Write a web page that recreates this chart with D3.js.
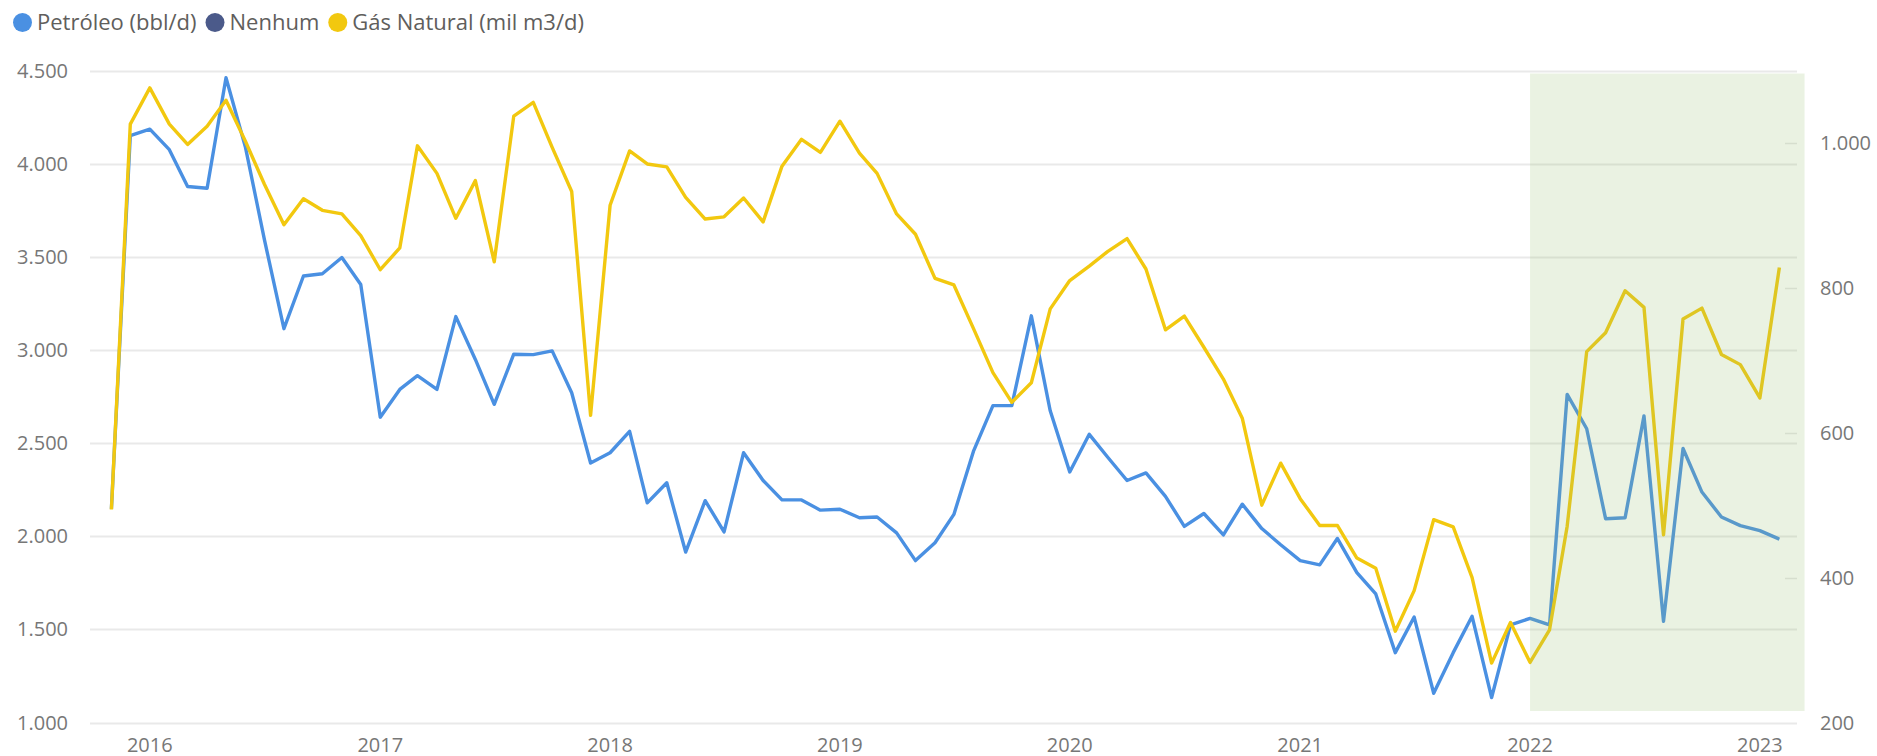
<!DOCTYPE html>
<html>
<head>
<meta charset="utf-8">
<script src="https://cdn.jsdelivr.net/npm/d3@7"></script>
<style>
  body { margin: 0; background: #fff; }
  svg { display: block; font-family: "Segoe UI", "Open Sans", sans-serif; }
</style>
</head>
<body>
<svg id="chart" width="1877" height="756"></svg>
<script>
// monthly series, Nov 2015 .. Feb 2023
const months = [
  '2015-11', '2015-12',
  '2016-01', '2016-02', '2016-03', '2016-04', '2016-05', '2016-06', '2016-07', '2016-08', '2016-09', '2016-10', '2016-11', '2016-12',
  '2017-01', '2017-02', '2017-03', '2017-04', '2017-05', '2017-06', '2017-07', '2017-08', '2017-09', '2017-10', '2017-11', '2017-12',
  '2018-01', '2018-02', '2018-03', '2018-04', '2018-05', '2018-06', '2018-07', '2018-08', '2018-09', '2018-10', '2018-11', '2018-12',
  '2019-01', '2019-02', '2019-03', '2019-04', '2019-05', '2019-06', '2019-07', '2019-08', '2019-09', '2019-10', '2019-11', '2019-12',
  '2020-01', '2020-02', '2020-03', '2020-04', '2020-05', '2020-06', '2020-07', '2020-08', '2020-09', '2020-10', '2020-11', '2020-12',
  '2021-01', '2021-02', '2021-03', '2021-04', '2021-05', '2021-06', '2021-07', '2021-08', '2021-09', '2021-10', '2021-11', '2021-12',
  '2022-01', '2022-02', '2022-03', '2022-04', '2022-05', '2022-06', '2022-07', '2022-08', '2022-09', '2022-10', '2022-11', '2022-12',
  '2023-01', '2023-02'
];

// Petróleo (bbl/d) - left axis
const petroleo = [
  2147, 4151,
  4185, 4075, 3877, 3868, 4461, 4086, 3592, 3114, 3397, 3409, 3496, 3351,
  2639, 2788, 2862, 2788, 3179, 2949, 2708, 2977, 2975, 2995, 2770, 2393,
  2448, 2563, 2179, 2287, 1915, 2191, 2023, 2448, 2299, 2195, 2195, 2140,
  2145, 2099, 2103, 2018, 1869, 1965, 2117, 2455, 2701, 2701, 3183, 2673,
  2345, 2547, 2425, 2299, 2340, 2214, 2053, 2122, 2007, 2172, 2041, 1954,
  1869, 1846, 1988, 1805, 1690, 1375, 1566, 1157, 1375, 1570, 1134, 1524,
  1559, 1524, 2761, 2577, 2094, 2099, 2646, 1543, 2471, 2237, 2103, 2057,
  2030, 1984
];

// Gás Natural (mil m3/d) - right axis
const gas = [
  494, 1026,
  1076, 1026, 998, 1023, 1059, 1002, 943, 887, 923, 907, 902, 872,
  825, 855, 996, 958, 896, 948, 836, 1037, 1056, 994, 933, 624,
  914, 989, 971, 967, 925, 895, 898, 924, 891, 968, 1005, 987,
  1030, 986, 958, 902, 874, 813, 804, 744, 683, 642, 669, 771,
  810, 830, 850, 868, 826, 742, 761, 718, 674, 620, 500, 558,
  509, 472, 472, 427, 413, 326, 382, 480, 470, 400, 282, 338,
  283, 328, 471, 712, 738, 796, 773, 459, 757, 772, 708, 694,
  648, 828
];

const leftTicks = [1000, 1500, 2000, 2500, 3000, 3500, 4000, 4500];
const rightTicks = [200, 400, 600, 800, 1000];
const yearTicks = ['2016', '2017', '2018', '2019', '2020', '2021', '2022', '2023'];

const legendItems = [
  { name: 'Petróleo (bbl/d)', color: '#4a90e2' },
  { name: 'Nenhum', color: '#4b5a8a' },
  { name: 'Gás Natural (mil m3/d)', color: '#f2c80f' }
];

// highlighted period
const highlightStart = '2022-01-01';
const highlightEnd = '2023-03-13';

const width = 1877, height = 756;
const plotLeft = 90, plotRight = 1797, plotTop = 70.5, plotBottom = 722.5;

const svg = d3.select('#chart');
const fmt = d3.formatLocale({ decimal: ',', thousands: '.', grouping: [3], currency: ['R$', ''] }).format(',d');
const parseMonth = d3.utcParse('%Y-%m');
const parseDay = d3.utcParse('%Y-%m-%d');
const dates = months.map(parseMonth);

const x = d3.scaleUtc()
  .domain([Date.UTC(2015, 8, 28), Date.UTC(2023, 2, 1)])
  .range([plotLeft, plotRight]);
const yL = d3.scaleLinear().domain([1000, 4500]).range([plotBottom, plotTop]);
const yR = d3.scaleLinear().domain([200, 1100]).range([plotBottom, plotTop]);

// gridlines
svg.append('g')
  .selectAll('line')
  .data(leftTicks)
  .join('line')
  .attr('x1', plotLeft)
  .attr('x2', plotRight)
  .attr('y1', d => Math.round(yL(d)) + 0.5)
  .attr('y2', d => Math.round(yL(d)) + 0.5)
  .attr('stroke', '#e9e9e9')
  .attr('stroke-width', 2);

// short marks for the secondary axis
svg.append('g')
  .selectAll('line')
  .data(rightTicks.slice(1))
  .join('line')
  .attr('x1', plotRight - 12)
  .attr('x2', plotRight)
  .attr('y1', d => Math.round(yR(d)) + 0.5)
  .attr('y2', d => Math.round(yR(d)) + 0.5)
  .attr('stroke', '#e6e6e6')
  .attr('stroke-width', 1.5);

// axis labels
const tickColor = '#777';
svg.append('g')
  .selectAll('text')
  .data(leftTicks)
  .join('text')
  .attr('x', 68)
  .attr('y', d => yL(d))
  .attr('dy', '0.35em')
  .attr('text-anchor', 'end')
  .attr('font-size', 20)
  .attr('fill', tickColor)
  .text(d => fmt(d));

svg.append('g')
  .selectAll('text')
  .data(rightTicks)
  .join('text')
  .attr('x', 1820)
  .attr('y', d => yR(d))
  .attr('dy', '0.35em')
  .attr('text-anchor', 'start')
  .attr('font-size', 20)
  .attr('fill', tickColor)
  .text(d => fmt(d));

svg.append('g')
  .selectAll('text')
  .data(yearTicks)
  .join('text')
  .attr('x', d => x(parseDay(d + '-01-01')))
  .attr('y', 744.5)
  .attr('dy', '0.35em')
  .attr('text-anchor', 'middle')
  .attr('font-size', 20)
  .attr('fill', tickColor)
  .text(d => d);

// lines
const lineL = d3.line().x((d, i) => x(dates[i])).y(d => yL(d));
const lineR = d3.line().x((d, i) => x(dates[i])).y(d => yR(d));

svg.append('path')
  .datum(petroleo)
  .attr('d', lineL)
  .attr('fill', 'none')
  .attr('stroke', legendItems[0].color)
  .attr('stroke-width', 3.4)
  .attr('stroke-linejoin', 'round');

svg.append('path')
  .datum(gas)
  .attr('d', lineR)
  .attr('fill', 'none')
  .attr('stroke', legendItems[2].color)
  .attr('stroke-width', 3.4)
  .attr('stroke-linejoin', 'round');

// green overlay on top of the lines
const hx0 = x(parseDay(highlightStart));
const hx1 = x(parseDay(highlightEnd));
svg.append('rect')
  .attr('x', hx0)
  .attr('y', 73.5)
  .attr('width', hx1 - hx0)
  .attr('height', 711 - 73.5)
  .attr('fill', 'rgb(150, 190, 110)')
  .attr('fill-opacity', 0.2);

// legend, laid out item after item
const legend = svg.append('g').attr('transform', 'translate(0,22.5)');
let lx = 13;
legendItems.forEach(item => {
  const g = legend.append('g').attr('transform', `translate(${lx},0)`);
  g.append('circle').attr('cx', 9.5).attr('r', 9.5).attr('fill', item.color);
  const t = g.append('text')
    .attr('x', 24)
    .attr('dy', '0.35em')
    .attr('font-size', 22)
    .attr('fill', '#605e5c')
    .text(item.name);
  lx += 24 + t.node().getComputedTextLength() + 9;
});
</script>
</body>
</html>
